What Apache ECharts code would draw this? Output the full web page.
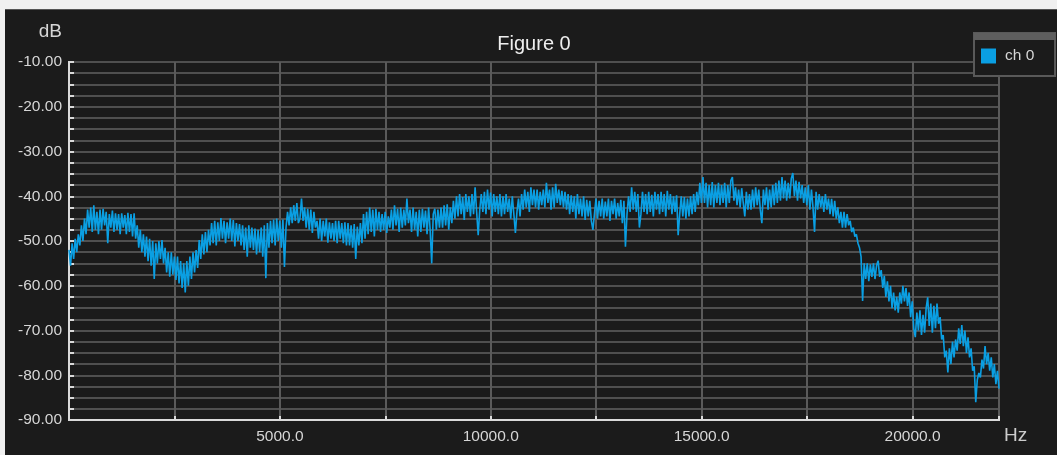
<!DOCTYPE html>
<html>
<head>
<meta charset="utf-8">
<title>Figure 0</title>
<script src="https://cdn.jsdelivr.net/npm/echarts@6/dist/echarts.min.js"></script>
<style>
  html, body { margin: 0; padding: 0; background: #f0f0f0; }
  #panel { position: absolute; left: 5px; top: 9px; width: 1052px; height: 446px;
           background: #1b1b1b; border-top: 1px solid #555; box-sizing: border-box; }
  #chart { position: absolute; left: 0; top: 0; width: 1057px; height: 455px; }
</style>
</head>
<body>
<div id="panel"></div>
<div id="chart"></div>
<script>
// Spectrum of channel 0: one level (dB) per frequency bin, bins spaced binHz apart from 0 Hz.
const seriesName = 'ch 0';
const binHz = 36.75;
const levelsDb = [
  -52, -55.5, -50.5, -54, -49.5, -52.5, -48.5, -51, -46.5, -50, -45, -48.5, -43, -47, -42.5, -48, -42, -47.5, -43.5, -48.5,
  -43, -47.5, -42.8, -46.5, -43.5, -50.5, -44, -47, -43.2, -48, -43.8, -47.5, -44, -48.5, -43.8, -47, -44.2, -48.5, -43.7, -48,
  -44, -49, -43.8, -49.5, -46.5, -51.5, -47.5, -52.5, -48.5, -53.5, -49, -54.5, -49.5, -55.5, -50, -58.5, -50.5, -55, -50, -54,
  -49.8, -55, -51.5, -57, -52.5, -58, -52.5, -57.5, -53.5, -58.7, -53.5, -59.5, -54.5, -60.5, -55, -61.5, -54.5, -60, -53.5, -58.5,
  -52.5, -57, -52, -56, -49.8, -54, -48.5, -53, -48, -52.5, -47.5, -51, -46, -50.5, -45.5, -51, -45.8, -50, -44.9, -49.5,
  -45.5, -50.5, -45.8, -49.5, -45, -50, -45.3, -51.2, -46, -50, -46.2, -51, -46.5, -52, -47, -53.5, -46.5, -51.5, -47, -52,
  -47.2, -53, -47.5, -52.5, -47, -53.5, -46.5, -58.3, -46, -51.5, -45.5, -50.5, -45.2, -51, -45, -50, -45.5, -51.5, -45.2, -55.8,
  -47, -43.5, -46.5, -42.5, -46, -42, -45.5, -41.5, -46, -45, -40.5, -45.5, -42.5, -47, -42.8, -47.5, -43, -48.2, -43.5, -47,
  -45.5, -49.5, -45, -50, -45.5, -49, -45, -50.4, -45.8, -49.5, -46, -50, -45.5, -50.5, -45.5, -49.5, -46, -50.5, -45.8, -51,
  -46, -51, -46.5, -51.5, -46.2, -54, -46.8, -51, -46, -50.5, -44, -49.5, -43.5, -48.5, -42.5, -48, -43, -49, -42.8, -47.5,
  -43.5, -48, -44, -47.5, -43.5, -48.2, -44.5, -47, -43, -47.5, -42, -46.5, -42.8, -48, -42.5, -47, -43, -46.5, -40.5, -46,
  -43, -48, -42.5, -47.5, -43.5, -49, -43, -48, -42.8, -47, -43.2, -48.5, -42.5, -47.5, -55, -44, -42.8, -47.5, -43, -47,
  -42.5, -47, -42, -46.5, -41.8, -47.5, -42.5, -46, -41, -45, -40, -44.5, -39.5, -44, -40.2, -45.3, -39.5, -43.5, -40, -44.5,
  -39.5, -44, -38, -43.5, -48.7, -43, -39.5, -43.5, -39, -44, -38.5, -43, -39.2, -44.5, -39.5, -43.5, -40, -44, -39.5, -44.5,
  -40, -44, -39.5, -43.5, -40.5, -45, -40, -44, -48.2, -43.5, -40.5, -44.5, -39.5, -43, -38.5, -42.5, -39, -43.5, -38, -42,
  -38.5, -42.5, -38.5, -43, -39, -42, -38.5, -42.5, -37, -41.5, -38.5, -43, -38, -42.5, -37.2, -41.5, -38.5, -42, -38.8, -42.5,
  -39, -43, -39.5, -44, -39.8, -43.5, -40, -45, -39.5, -44, -40.5, -44.5, -40, -45.3, -40.8, -44.5, -41, -45.5, -47.5, -44,
  -40.5, -45, -41, -44.5, -40.5, -45, -41.2, -44.5, -40.5, -45.5, -41, -44, -40.5, -45, -41.5, -44.5, -40.8, -46, -41, -51.3,
  -44, -40, -43.5, -38, -43, -39, -43.5, -39.5, -47, -44, -39, -43.5, -39.5, -44, -39, -43.5, -39.7, -44.5, -39, -43,
  -39.5, -44, -39, -43.5, -39.5, -44.5, -38.8, -43, -39.5, -44, -40, -43.5, -39.8, -48.7, -44, -40, -44.5, -40.2, -45, -40.5,
  -44.5, -40, -44, -39.5, -43.5, -39, -42, -37, -41.5, -35.7, -41.5, -37, -42.5, -37.5, -42, -36.8, -42.5, -37.5, -41.5, -37,
  -42, -37.5, -41.5, -37, -42.5, -37.5, -41.5, -36.5, -35.7, -41, -38, -42, -38.5, -42.5, -38.2, -41.5, -44.5, -39, -43, -39.5,
  -43, -38.5, -42.5, -38, -42, -38.5, -43, -46, -38.5, -42, -38, -43, -38.5, -42.5, -37.5, -42, -37, -41.5, -36.5, -41,
  -35.7, -40.5, -36.5, -41, -37, -40.5, -36, -34.8, -40, -36.5, -41, -36.8, -40.5, -37.5, -41.5, -38, -42, -37.5, -43, -38.5,
  -42.5, -48, -39, -43, -39.5, -42.5, -40, -43.5, -39.5, -43, -40.5, -44, -40.6, -44.5, -41, -45, -42.5, -46, -43.5, -47,
  -43.5, -47, -44, -46.5, -45.5, -48, -47, -49, -48.5, -50.5, -51.5, -53.5, -63.4, -55, -58.5, -55, -59, -55.2, -58, -55,
  -58.5, -55.5, -54.4, -58, -56.5, -60.5, -57.8, -62.5, -59, -63.5, -60, -65, -61.5, -65.5, -62.5, -66, -61.5, -64, -60, -63.5,
  -60.5, -64.5, -61.5, -67, -63.5, -69.5, -71.5, -66, -70, -65.5, -71, -66.5, -70.5, -65, -62.6, -69, -64, -70.5, -64.5, -69.5,
  -64, -68.5, -67, -72, -71, -76, -74.5, -79.4, -74, -77.5, -72.5, -76, -72, -74.5, -69.5, -73, -68.8, -73.5, -70, -75,
  -71.5, -76, -74, -79, -78, -86, -81, -79.5, -80.5, -76.5, -78.5, -73.5, -77.5, -75, -79, -76, -80.5, -77.5, -82, -79,
  -83
];

// Axis ranges and label steps
const freqMax = 22050;
const freqGridStep = 2500;
const freqLabelStep = 5000;
const dbMin = -90, dbMax = -10;
const dbGridStep = 2.5;
const dbLabelStep = 10;

const points = levelsDb.map((v, i) => [i * binHz, v]);

const textColor = '#d6d6d6';
const frameColor = '#dadada';
const gridColor = '#505050';
const vGridColor = '#5a5a5a';
const lineColor = '#0a9fe3';
const fontFamily = '"Liberation Sans", Arial, sans-serif';

const chart = echarts.init(document.getElementById('chart'), null, { renderer: 'canvas' });
chart.setOption({
  animation: false,
  backgroundColor: 'transparent',
  textStyle: { fontFamily: fontFamily },
  title: {
    text: 'Figure 0',
    left: 529, top: 29, textAlign: 'center',
    textStyle: { color: '#eeeeee', fontSize: 20, fontWeight: 'normal', fontFamily: fontFamily }
  },
  legend: {
    data: [seriesName],
    left: 981, top: 48, padding: 0, z: 10,
    icon: 'rect', itemWidth: 15, itemHeight: 15,
    textStyle: { color: textColor, fontSize: 15.5, fontFamily: fontFamily, padding: [0, 0, 0, 4] }
  },
  graphic: [
    { type: 'rect', z: 1, shape: { x: 974, y: 33, width: 81, height: 43 },
      style: { fill: '#1b1b1b', stroke: '#595959', lineWidth: 2 } },
    { type: 'rect', z: 2, shape: { x: 974, y: 33, width: 81, height: 7 },
      style: { fill: '#5e5e5e' } },
    { type: 'text', z: 2, left: 1004, top: 426,
      style: { text: 'Hz', fill: '#cccccc', fontSize: 19, fontFamily: fontFamily } }
  ],
  grid: {
    left: 69, right: 58, top: 62, bottom: 35,
    show: true, borderColor: frameColor, borderWidth: 2, backgroundColor: 'transparent'
  },
  xAxis: {
    type: 'value', min: 0, max: freqMax, interval: freqGridStep,
    axisLine: { show: true, lineStyle: { color: frameColor, width: 2 } },
    axisTick: { show: true, inside: true, length: 4, lineStyle: { color: frameColor, width: 2 } },
    splitLine: { show: true, lineStyle: { color: vGridColor, width: 2 } },
    axisLabel: {
      color: textColor, fontSize: 15.5, margin: 9, fontFamily: fontFamily,
      formatter: v => (v > 0 && v % freqLabelStep === 0) ? v.toFixed(1) : ''
    }
  },
  yAxis: {
    type: 'value', min: dbMin, max: dbMax, interval: dbGridStep,
    name: 'dB', nameLocation: 'end', nameGap: 21,
    nameTextStyle: { color: textColor, fontSize: 19, align: 'right', padding: [0, 7, 0, 0], fontFamily: fontFamily },
    axisLine: { show: true, lineStyle: { color: frameColor, width: 2 } },
    axisTick: { show: true, inside: true, length: 5, lineStyle: { color: frameColor, width: 2 } },
    splitLine: { show: true, lineStyle: { color: gridColor, width: 2 } },
    axisLabel: {
      color: textColor, fontSize: 15.5, margin: 7, fontFamily: fontFamily,
      formatter: v => (Math.abs(v % dbLabelStep) < 1e-9) ? v.toFixed(2) : ''
    }
  },
  series: [{
    name: seriesName,
    type: 'line',
    data: points,
    showSymbol: false,
    sampling: false,
    color: lineColor,
    lineStyle: { color: lineColor, width: 1.6 },
    z: 5
  }]
});
</script>
</body>
</html>
